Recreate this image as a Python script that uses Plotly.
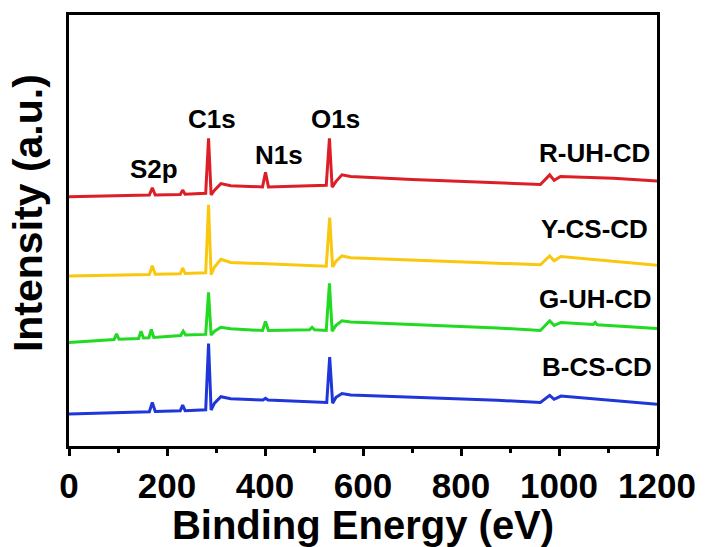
import plotly.graph_objects as go

# XPS survey spectra (binding energy in eV, stacked intensity in a.u.)
E_R = [0, 117, 164, 170, 176, 227, 232, 237, 279, 284.8, 290, 297, 310, 330, 395, 401, 407,
       525, 531.5, 537, 545, 557, 575, 700, 874, 962, 981, 990, 1003, 1111, 1200]
I_R = [256.3, 257.3, 258, 265.3, 258, 258.5, 263, 258.7, 259.7, 316.3, 258, 263, 269.7, 267.5, 266.3, 281.3, 266.3,
       268, 316.3, 266, 272, 278.7, 277, 274, 270.7, 268.7, 278.7, 273, 277, 275.3, 272.5]

E_Y = [0, 117, 164, 170, 176, 227, 232, 237, 279, 284.8, 290, 297, 310, 330,
       525, 532, 538, 545, 557, 575, 874, 962, 981, 990, 1004, 1100, 1200]
I_Y = [174.7, 176.3, 176.3, 185.3, 176.5, 177, 183, 177.3, 178, 248, 176, 184, 192, 188.7,
       184.7, 234.7, 184, 190, 195.3, 193.5, 188, 186.3, 195.3, 190.3, 194.7, 190, 185.7]

E_G = [0, 92, 97, 102, 142, 147, 152, 163, 168, 173, 228, 233, 238, 279, 284.8, 290, 297, 310, 330,
       395, 401, 407, 491, 496, 501, 525, 531.5, 537, 545, 557, 575, 874, 962, 981, 990, 1004,
       1070, 1074, 1078, 1200]
I_G = [106.3, 109.5, 115.3, 109.7, 110.5, 118, 111, 111.3, 119.7, 111.5, 113.5, 118, 114, 114.7, 158, 114, 118, 122, 120.5,
       118.7, 128, 118.7, 119.5, 122, 119.5, 118.7, 167.3, 118, 124, 128.7, 127.5, 121.3, 118.7, 128.7, 124, 127,
       125, 127, 124.5, 120.7]

E_B = [0, 117, 164, 170, 176, 227, 232, 237, 279, 284.8, 290, 297, 310, 330, 396, 401, 406,
       526, 532, 538, 545, 557, 575, 874, 962, 981, 990, 1004, 1100, 1200]
I_B = [33, 34.7, 35.3, 44.7, 35.5, 36.2, 42, 36.3, 37.3, 105.3, 37, 44, 50.7, 48.5, 47.2, 49, 47.2,
       44.7, 91.3, 44, 50, 54, 52.5, 47, 44.7, 52, 48, 51.3, 47, 43]

SERIES = [
    ("R-UH-CD", E_R, I_R, "#DC1F26"),
    ("Y-CS-CD", E_Y, I_Y, "#F9C80E"),
    ("G-UH-CD", E_G, I_G, "#22DA22"),
    ("B-CS-CD", E_B, I_B, "#1F36D9"),
]

# sample names, placed above each curve at the high-energy end
SAMPLE_X = [1190, 1186, 1194, 1194]
SAMPLE_Y = [301, 223, 151, 81]

# core-level peak labels
PEAK_NAMES = ["S2p", "C1s", "N1s", "O1s"]
PEAK_X = [174, 292, 428, 543]
PEAK_Y = [285, 336, 299, 336]

FONT = "Liberation Sans, Arial, sans-serif"

fig = go.Figure()
for name, e, i, c in SERIES:
    fig.add_trace(go.Scatter(x=e, y=i, mode="lines", name=name,
                             line=dict(color=c, width=3), showlegend=False))

for name, x, y in zip([s[0] for s in SERIES], SAMPLE_X, SAMPLE_Y):
    fig.add_annotation(x=x, y=y, text=f"<b>{name}</b>", showarrow=False,
                       xanchor="right", yanchor="middle",
                       font=dict(family=FONT, size=26, color="black"))

for name, x, y in zip(PEAK_NAMES, PEAK_X, PEAK_Y):
    fig.add_annotation(x=x, y=y, text=f"<b>{name}</b>", showarrow=False,
                       xanchor="center", yanchor="middle",
                       font=dict(family=FONT, size=26, color="black"))

# rotated y-axis title
fig.add_annotation(xref="paper", yref="paper", x=-0.07, y=0.54,
                   text="<b>Intensity (a.u.)</b>", textangle=-90, showarrow=False,
                   xanchor="center", yanchor="middle",
                   font=dict(family=FONT, size=41, color="black"))

fig.update_layout(
    width=708, height=547,
    margin=dict(l=69, r=48, t=15, b=89),
    paper_bgcolor="white", plot_bgcolor="white",
    font=dict(family=FONT, color="black"),
    xaxis=dict(
        range=[0, 1200], tick0=0, dtick=200,
        showline=True, linecolor="black", linewidth=3, mirror=True,
        ticks="outside", ticklen=7, tickwidth=2.5, tickcolor="black",
        minor=dict(dtick=100, ticks="outside", ticklen=4, tickwidth=2.5, tickcolor="black"),
        showgrid=False, zeroline=False,
        tickfont=dict(family=FONT, size=35, color="black"),
        tickprefix="<b>", ticksuffix="</b>",
        title=dict(text="<b>Binding Energy (eV)</b>", standoff=2,
                   font=dict(family=FONT, size=40, color="black")),
    ),
    yaxis=dict(
        range=[0, 443],
        showline=True, linecolor="black", linewidth=3, mirror=True,
        showticklabels=False, ticks="", showgrid=False, zeroline=False,
    ),
)

fig.write_html("out.html")
